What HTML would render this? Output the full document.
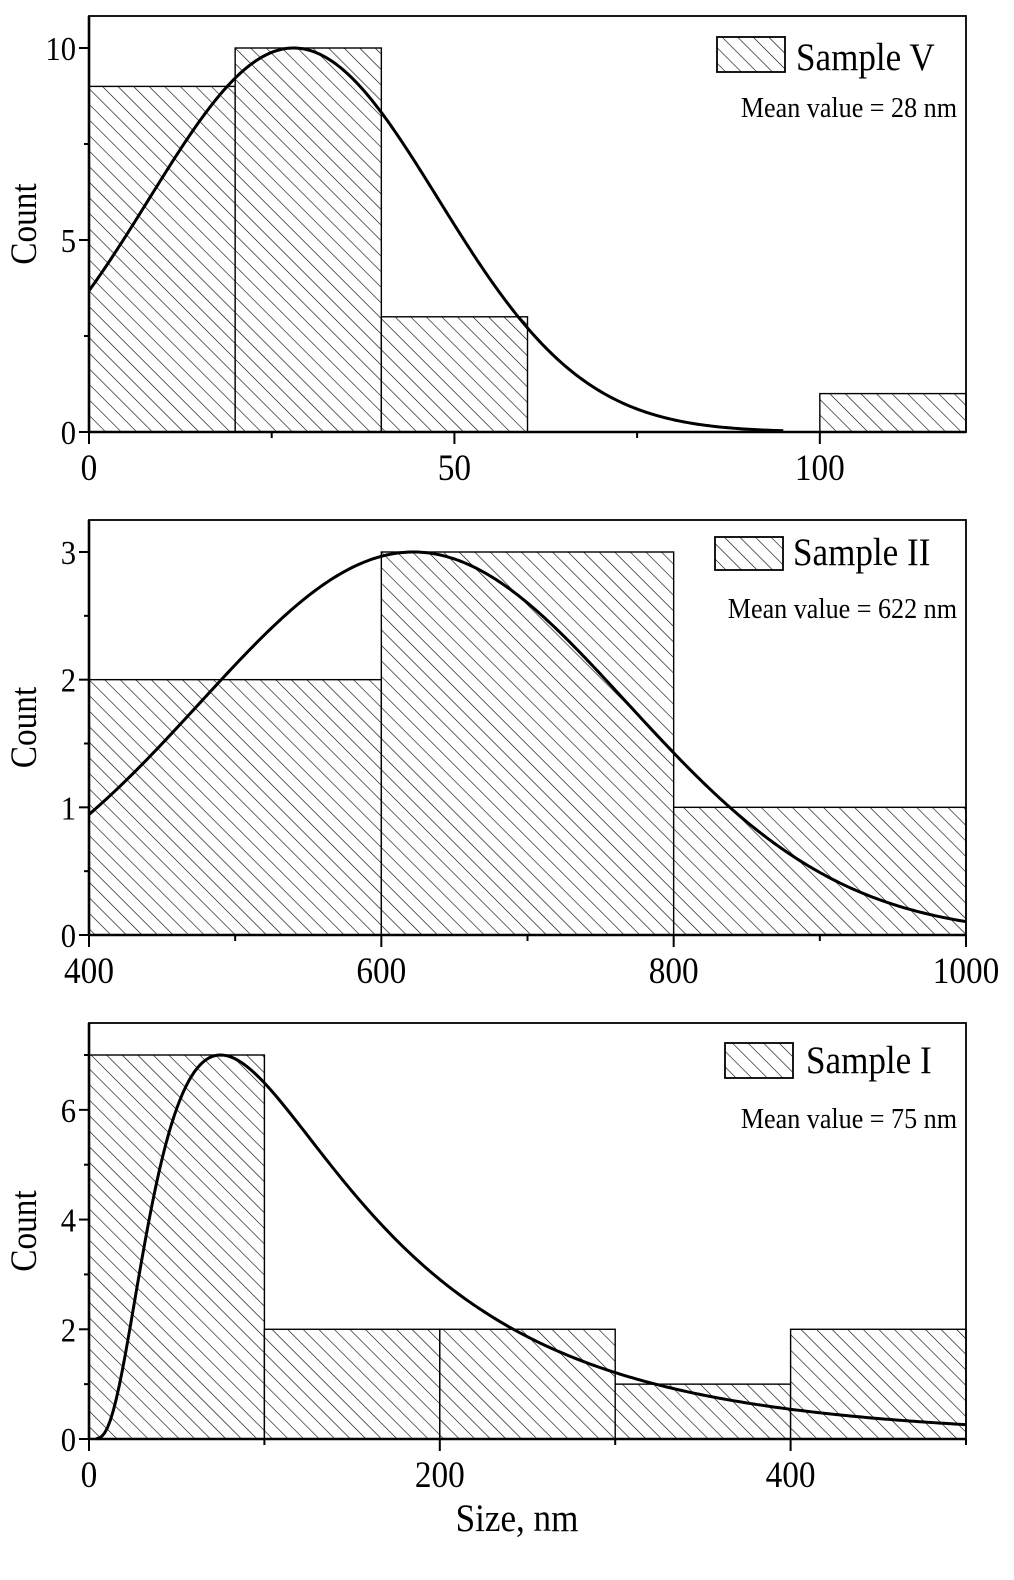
<!DOCTYPE html>
<html><head><meta charset="utf-8"><style>
html,body{margin:0;padding:0;background:#fff;}
svg text{font-family:"Liberation Serif",serif;fill:#000;}
</style></head><body>
<svg id="c" xmlns="http://www.w3.org/2000/svg" width="1014" height="1575" viewBox="0 0 1014 1575">
<defs>
<pattern id="hatch" patternUnits="userSpaceOnUse" width="11" height="11" patternTransform="rotate(-45)">
<rect width="11" height="11" fill="#fff"/>
<line x1="0" y1="0" x2="0" y2="11" stroke="#000" stroke-width="1.2"/>
</pattern>
</defs>
</svg>
<script>
// Panel 1: Sample V
const p1BinEdges = [0, 20, 40, 60, 80, 100, 120];
const p1Counts = [9, 10, 3, 0, 0, 1];
const p1Fit = [10, 28, 19.8]; // amplitude, center, sigma (gaussian)
const p1XTicks = [0, 50, 100];
const p1YTicks = [0, 5, 10];
// Panel 2: Sample II
const p2BinEdges = [400, 600, 800, 1000];
const p2Counts = [2, 3, 1];
const p2Fit = [3, 622, 146];
const p2XTicks = [400, 600, 800, 1000];
const p2YTicks = [0, 1, 2, 3];
// Panel 3: Sample I
const p3BinEdges = [0, 100, 200, 300, 400, 500];
const p3Counts = [7, 2, 2, 1, 2];
const p3Fit = [7, 75, 0.74]; // lognormal amplitude, center, width
const p3XTicks = [0, 200, 400];
const p3YTicks = [0, 2, 4, 6];

const NS = 'http://www.w3.org/2000/svg';
const svg = document.getElementById('c');
function mk(tag, attrs, parent) {
  const e = document.createElementNS(NS, tag);
  for (const k in attrs) e.setAttribute(k, attrs[k]);
  (parent || svg).appendChild(e);
  return e;
}
function txt(x, y, s, size, anchor, parent) {
  const t = mk('text', {transform: 'translate(' + x + ',' + y + ') scale(0.9,1)', 'font-size': size, 'text-anchor': anchor}, parent);
  t.textContent = s;
  return t;
}

const panels = [
  {name:'sample-v', L:89, R:966, T:16, B:432, xmin:0, xmax:120, ymin:0, ymax:10.0, edges:p1BinEdges, counts:p1Counts, fit:p1Fit, type:'gauss', fitRange:[0,95], xt:p1XTicks, yt:p1YTicks, xminor:25, yminor:2.5,
   label:'Sample V', mean:'Mean value = 28 nm', box:[717,37,68,35], lblX:796, lblY:70, meanY:117},
  {name:'sample-ii', L:89, R:966, T:520, B:935, xmin:400, xmax:1000, ymin:0, ymax:3.0, edges:p2BinEdges, counts:p2Counts, fit:p2Fit, type:'gauss', fitRange:[400,1000], xt:p2XTicks, yt:p2YTicks, xminor:100, yminor:0.5,
   label:'Sample II', mean:'Mean value = 622 nm', box:[715,537,68,33], lblX:793, lblY:565, meanY:618},
  {name:'sample-i', L:89, R:966, T:1023, B:1439, xmin:0, xmax:500, ymin:0, ymax:7.0, edges:p3BinEdges, counts:p3Counts, fit:p3Fit, type:'logn', fitRange:[4,500], xt:p3XTicks, yt:p3YTicks, xminor:100, yminor:1,
   label:'Sample I', mean:'Mean value = 75 nm', box:[725,1043,68,35], lblX:806, lblY:1073, meanY:1128}
];
const yTop = [48, 552, 1055];

panels.forEach((p, i) => {
  const g = mk('g', {});
  
  
  const sx = v => p.L + (v - p.xmin) / (p.xmax - p.xmin) * (p.R - p.L);
  const sy = v => p.B - (v - p.ymin) / (p.ymax - p.ymin) * (p.B - yTop[i]);
  p.counts.forEach((c, k) => {
    if (c <= 0) return;
    const x0 = sx(p.edges[k]), x1 = sx(p.edges[k + 1]);
    const r = mk('rect', {x: x0, y: sy(c), width: x1 - x0, height: sy(0) - sy(c), fill: 'url(#hatch)', stroke: '#000', 'stroke-width': 1.4}, g);
    
    
  });
  const f = p.fit; let d = '';
  const n = 300;
  for (let k = 0; k <= n; k++) {
    const x = p.fitRange[0] + (p.fitRange[1] - p.fitRange[0]) * k / n;
    let y;
    if (p.type === 'gauss') y = f[0] * Math.exp(-Math.pow(x - f[1], 2) / (2 * f[2] * f[2]));
    else y = f[0] * Math.exp(-Math.pow(Math.log(x / f[1]), 2) / (2 * f[2] * f[2]));
    d += (k ? 'L' : 'M') + sx(x).toFixed(2) + ',' + sy(y).toFixed(2);
  }
  const cv = mk('path', {d: d, fill: 'none', stroke: '#000', 'stroke-width': 3}, g);
  
  
  const fr = mk('rect', {x: p.L, y: p.T, width: p.R - p.L, height: p.B - p.T, fill: 'none', stroke: '#000', 'stroke-width': 1.8}, g);
  
  
  const xa = mk('line', {x1: p.L, y1: p.B, x2: p.R, y2: p.B, stroke: '#000', 'stroke-width': 2.6}, g);
  
  
  const ya = mk('line', {x1: p.L, y1: p.T, x2: p.L, y2: p.B, stroke: '#000', 'stroke-width': 2.6}, g);
  
  
  for (let v = p.xmin; v <= p.xmax + 1e-9; v += p.xminor) {
    const major = p.xt.includes(v);
    mk('line', {x1: sx(v), y1: p.B, x2: sx(v), y2: p.B + (major ? 12 : 6), stroke: '#000', 'stroke-width': 2}, g);
  }
  p.xt.forEach(v => {
    const t = txt(sx(v), p.B + 48, String(v), 37, 'middle', g);
    
    
  });
  for (let v = p.ymin; v <= p.ymax + 1e-9; v += p.yminor) {
    const major = p.yt.some(t => Math.abs(t - v) < 1e-9);
    mk('line', {x1: p.L - (major ? 10 : 5), y1: sy(v), x2: p.L, y2: sy(v), stroke: '#000', 'stroke-width': 2}, g);
  }
  p.yt.forEach(v => {
    const t = txt(p.L - 13, sy(v) + 12, String(v), 34, 'end', g);
    
    
  });
  const yt = mk('text', {transform: 'translate(36,' + ((p.T + p.B) / 2) + ') rotate(-90) scale(0.9,1)', 'font-size': 37, 'text-anchor': 'middle'}, g);
  yt.textContent = 'Count';
  
  
  const lg = mk('g', {}, g);
  
  
  mk('rect', {x: p.box[0], y: p.box[1], width: p.box[2], height: p.box[3], fill: 'url(#hatch)', stroke: '#000', 'stroke-width': 1.8}, lg);
  txt(p.lblX, p.lblY, p.label, 39, 'start', lg);
  const mt = txt(957, p.meanY, p.mean, 29, 'end', g);
  
  
});
const xt = txt(517, 1531, 'Size, nm', 39, 'middle');


</script>
</body></html>
